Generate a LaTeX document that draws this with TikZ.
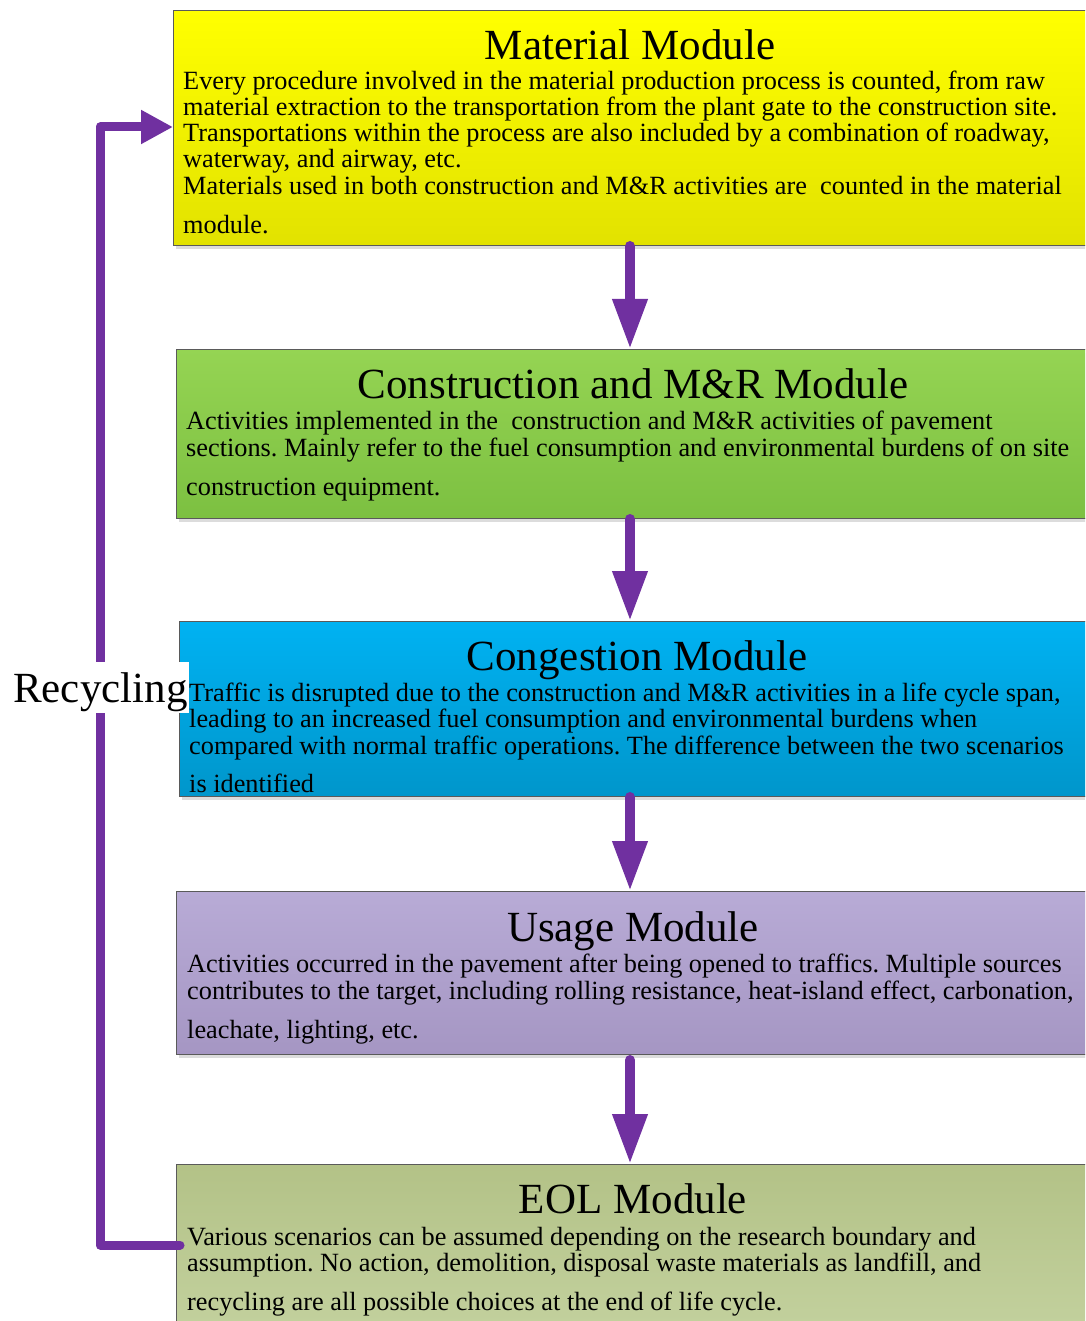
\documentclass[tikz,border=0pt]{standalone}
\usepackage{fontspec}
\setmainfont{Liberation Serif}
\usetikzlibrary{arrows.meta}
\frenchspacing
\definecolor{arrowpurple}{HTML}{7030A0}
\definecolor{edgegray}{HTML}{5A5A5A}
\definecolor{shadowgray}{HTML}{DCDCDC}
\definecolor{yelT}{HTML}{FFFF00}\definecolor{yelB}{HTML}{E2E200}
\definecolor{grnT}{HTML}{95D453}\definecolor{grnB}{HTML}{7CC041}
\definecolor{bluT}{HTML}{00B2F2}\definecolor{bluB}{HTML}{0096CB}
\definecolor{purT}{HTML}{B8ABD6}\definecolor{purB}{HTML}{A596C3}
\definecolor{eolT}{HTML}{B3C287}\definecolor{eolB}{HTML}{C3D19E}
\tikzset{
  modbox/.style={draw=edgegray, line width=1.2pt},
  modshadow/.style={fill=shadowgray, draw=none},
  title/.style={anchor=base, inner sep=0pt, font=\fontsize{43}{47}\selectfont},
  body/.style={anchor=base west, inner sep=0pt, font=\fontsize{26.3}{28}\selectfont},
  flow/.style={draw=arrowpurple, line width=10pt, line cap=round, -{Triangle[width=33pt,length=50pt]}},
  loopline/.style={draw=arrowpurple, line width=9pt, line cap=round, line join=round, -{Triangle[width=32pt,length=32pt]}},
}
\begin{document}
\begin{tikzpicture}[x=1pt,y=-1pt]
\useasboundingbox (0,0) rectangle (1085,1321);
\clip (0,0) rectangle (1085,1321);
% shadows
\fill[modshadow] (176,14) rectangle (1095,249);
\fill[modshadow] (179,353) rectangle (1095,522);
\fill[modshadow] (182,625) rectangle (1095,800);
\fill[modshadow] (179,895) rectangle (1095,1058);
% boxes
\node[modbox, top color=yelT, bottom color=yelB, minimum width=914pt, minimum height=235pt, anchor=north west, inner sep=0pt] (mat) at (173,10) {};
\node[modbox, top color=grnT, bottom color=grnB, minimum width=911pt, minimum height=169pt, anchor=north west, inner sep=0pt] (con) at (176,349) {};
\node[modbox, top color=bluT, bottom color=bluB, minimum width=908pt, minimum height=175pt, anchor=north west, inner sep=0pt] (cgs) at (179,621) {};
\node[modbox, top color=purT, bottom color=purB, minimum width=911pt, minimum height=163pt, anchor=north west, inner sep=0pt] (use) at (176,891) {};
\node[modbox, top color=eolT, bottom color=eolB, minimum width=911pt, minimum height=170pt, anchor=north west, inner sep=0pt] (eol) at (176,1164) {};
% titles
\node[title] (matT) at (630,60) {Material Module};
\node[title] (conT) at (633,398) {Construction and M\&R Module};
\node[title] (cgsT) at (637,670) {Congestion Module};
\node[title] (useT) at (633,941) {Usage Module};
\node[title] (eolT) at (633,1213) {EOL Module};
% material body
\node[body] (m1) at (183,90) {Every procedure involved in the material production process is counted, from raw};
\node[body] (m2) at (183,116) {material extraction to the transportation from the plant gate to the construction site.};
\node[body] (m3) at (183,142) {Transportations within the process are also included by a combination of roadway,};
\node[body] (m4) at (183,168) {waterway, and airway, etc.};
\node[body] (m5) at (183,195) {Materials used in both construction and M\&R activities are\ \ counted in the material};
\node[body] (m6) at (183,234) {module.};
% construction body
\node[body] (c1) at (186,429) {Activities implemented in the\ \ construction and M\&R activities of pavement};
\node[body] (c2) at (186,456) {sections. Mainly refer to the fuel consumption and environmental burdens of on site};
\node[body] (c3) at (186,495) {construction equipment.};
% congestion body
\node[body] (g1) at (189,701) {Traffic is disrupted due to the construction and M\&R activities in a life cycle span,};
\node[body] (g2) at (189,727) {leading to an increased fuel consumption and environmental burdens when};
\node[body] (g3) at (189,754) {compared with normal traffic operations. The difference between the two scenarios};
\node[body] (g4) at (189,792) {is identified};
% usage body
\node[body] (u1) at (187,972) {Activities occurred in the pavement after being opened to traffics. Multiple sources};
\node[body] (u2) at (187,999) {contributes to the target, including rolling resistance, heat-island effect, carbonation,};
\node[body] (u3) at (187,1038) {leachate, lighting, etc.};
% eol body
\node[body] (e1) at (187,1245) {Various scenarios can be assumed depending on the research boundary and};
\node[body] (e2) at (187,1271) {assumption. No action, demolition, disposal waste materials as landfill, and};
\node[body] (e3) at (187,1310) {recycling are all possible choices at the end of life cycle.};
% flow arrows
\coordinate (a1s) at (630,246); \coordinate (a1e) at (630,349);
\coordinate (a2s) at (630,519); \coordinate (a2e) at (630,621);
\coordinate (a3s) at (630,797); \coordinate (a3e) at (630,891);
\coordinate (a4s) at (630,1060); \coordinate (a4e) at (630,1164);
\draw[flow] (a1s) -- (a1e);
\draw[flow] (a2s) -- (a2e);
\draw[flow] (a3s) -- (a3e);
\draw[flow] (a4s) -- (a4e);
% recycling loop
\coordinate (rs) at (180,1245);
\coordinate (re) at (173,127);
\draw[loopline] (rs) -- (100,1245) -- (100,127) -- (re);
\node[fill=white, anchor=base west, inner xsep=1pt, inner ysep=0pt, text height=40pt, text depth=11pt, font=\fontsize{43}{47}\selectfont] (rec) at (12,702) {Recycling};
\end{tikzpicture}
\end{document}
